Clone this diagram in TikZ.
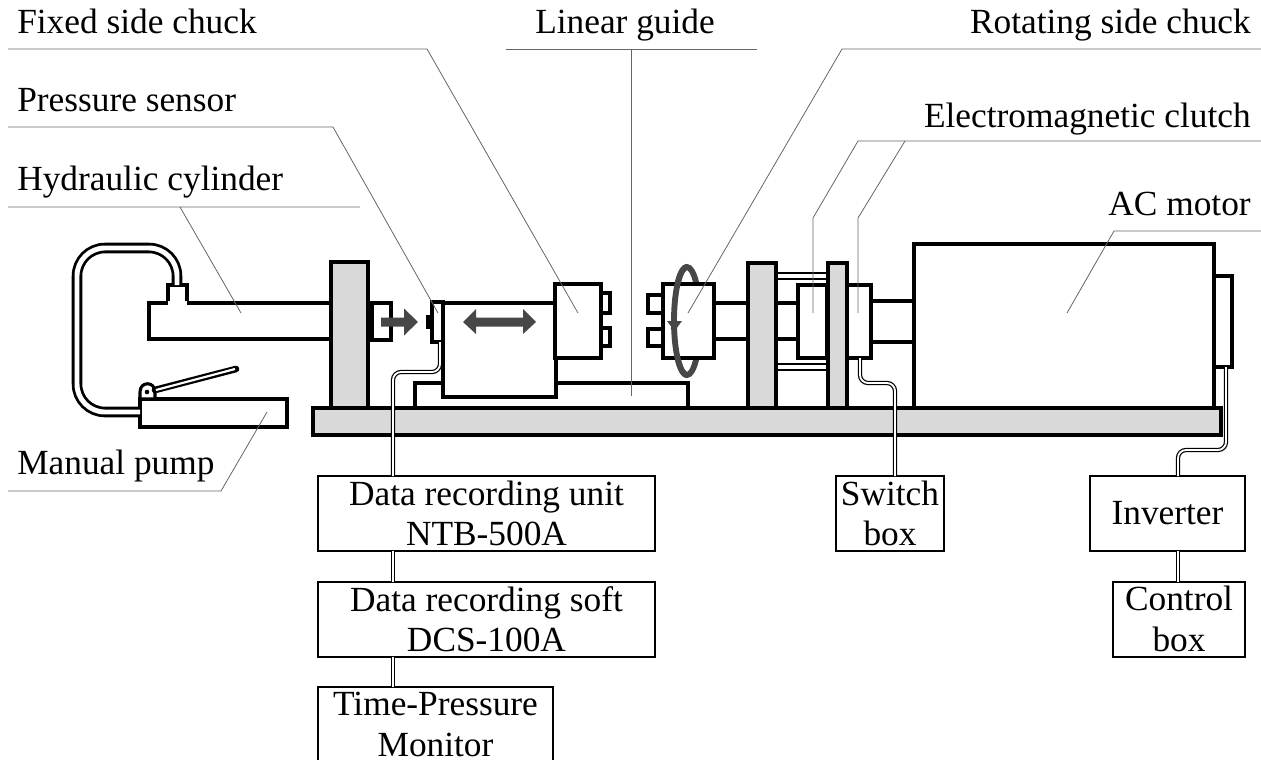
\documentclass[tikz,border=0pt]{standalone}
\usepackage{xcolor}
\usepackage{fontspec}
\setmainfont{Liberation Serif}
\usetikzlibrary{positioning,fit}
\definecolor{plategray}{HTML}{D9D9D9}
\definecolor{arrowgray}{HTML}{474747}
\definecolor{leadergray}{HTML}{666666}

\begin{document}
\begin{tikzpicture}[
    x=0.75pt,y=-0.75pt,
    node distance=23pt,
    every node/.style={font=\fontsize{26.5}{30.5}\selectfont},
    part/.style={rectangle,draw,fill=white,line width=2.3pt,inner sep=0pt,outer sep=0pt},
    plate/.style={part,fill=plategray},
    box/.style={
        rectangle,draw,line width=1.4pt,
        minimum height=56.25pt,
        inner sep=0pt,outer sep=0pt,
        align=center
    },
    label/.style={anchor=base west,inner sep=0pt},
    rlabel/.style={anchor=base east,inner sep=0pt},
    leader/.style={leadergray,line width=0.6pt},
    hose/.style={double=white,draw=black,line width=0.9pt,double distance=1.4pt,rounded corners=6pt},
    tube/.style={double=white,draw=black,line width=2.1pt,double distance=3.7pt,rounded corners=21pt},
    block/.style={fill=arrowgray,draw=none}
]
\useasboundingbox (0,0) rectangle (1261,760);

\node[label] (fixedlabel) at (17,33) {Fixed side chuck};
\node[label] (sensorlabel) at (17,111) {Pressure sensor};
\node[label] (cylinderlabel) at (17,190) {Hydraulic cylinder};
\node[label] (pumplabel) at (17,474) {Manual pump};
\node[label] (guidelabel) at (535,33) {Linear guide};
\node[rlabel] (rotatinglabel) at (1251,33) {Rotating side chuck};
\node[rlabel] (clutchlabel) at (1251,127) {Electromagnetic clutch};
\node[rlabel] (motorlabel) at (1251,215) {AC motor};

\node[part,fit={(140,399)(287,427)}] (pump) {};
\draw[part] (140,399) -- (140,392) .. controls (140,381) and (155,381) .. (155,392) -- (155,399) -- cycle;
\node[draw,circle,fill=black,inner sep=0pt,minimum size=3pt] (pivot) at (147,392) {};
\draw[line width=5pt,line cap=round] (155,390) -- (236,369);
\draw[white,line width=1.6pt] (156,390) -- (235,369);

\node[part,fit={(168,285)(187,303)}] (port) {};
\draw[tube] (177,285) |- (77,248) |- (pump.west |- 0,412);
\node[part,fit={(149,303)(331,339)}] (cylinder) {};
\draw[line width=2.3pt,white] (168,303) -- (187,303);

\node[part,fit={(368,313)(372,330)}] (collar) {};
\node[part,fit={(372,303)(391,340)}] (rod) {};
\fill[block] (381,317.5) -- (404,317.5) -- (404,308.5) -- (418,322) -- (404,335.5) -- (404,326.5) -- (381,326.5) -- cycle;

\node[part,fit={(415,383)(688,408)}] (guide) {};
\node[part,fit={(443,303)(556,397)}] (carriage) {};
\node[part,fit={(428,317)(432,327)}] (tab) {};
\node[part,fit={(432,302)(443,342)}] (sensor) {};
\fill[block] (463,322) -- (476,309) -- (476,317.5) -- (523,317.5) -- (523,309) -- (536,322) -- (523,334) -- (523,326.5) -- (476,326.5) -- (476,334) -- cycle;

\node[part,fit={(601,293)(610,313)}] (fixtaba) {};
\node[part,fit={(601,328)(610,346)}] (fixtabb) {};
\node[part,fit={(555,284)(601,358)}] (fixedchuck) {};

\draw[arrowgray,line width=4.4pt] (687,321) ellipse [x radius=13,y radius=54];
\node[part,fit={(648,295)(663,313)}] (rottaba) {};
\node[part,fit={(648,329)(663,346)}] (rottabb) {};
\node[part,fit={(714,303)(748,339)}] (shafta) {};
\node[part,fit={(663,284)(714,358)}] (rotatingchuck) {};
\draw[arrowgray,line width=4.4pt] plot[domain=90:270,samples=30,smooth] ({687+13*cos(\x)},{321+54*sin(\x)});
\fill[block] (667,321) -- (682,321) -- (674.5,331) -- cycle;

\node[part,fit={(776,303)(798,339)}] (shaftb) {};
\draw[line width=1.7pt] (776,273) -- (828,273) (776,279) -- (828,279);
\draw[line width=1.7pt] (776,364) -- (828,364) (776,370) -- (828,370);
\node[part,fit={(798,285)(827,358)}] (clutcha) {};
\node[part,fit={(847,285)(871,358)}] (clutchb) {};
\node[part,fit={(871,301)(914,342)}] (shaftc) {};
\node[plate,fit={(748,263)(776,408)}] (platea) {};
\node[plate,fit={(828,263)(847,408)}] (plateb) {};
\node[plate,fit={(331,262)(368,408)}] (fixedplate) {};
\node[part,fit={(914,244)(1214,408)}] (motor) {};
\node[part,fit={(1214,276)(1232,367)}] (fan) {};
\node[plate,fit={(313,408)(1221,435)}] (base) {};

\node[box,minimum width=252.75pt] (unit) at (486.5,513.5) {Data recording unit\\NTB-500A};
\node[box,minimum width=252.75pt,below=of unit] (soft) {Data recording soft\\DCS-100A};
\node[box,minimum width=176.25pt,below=22.5pt of soft.south west,anchor=north west] (monitor) {Time-Pressure\\Monitor};
\node[box,minimum width=81pt] (switch) at (890,513.5) {Switch\\box};
\node[box,minimum width=116.25pt] (inverter) at (1167.5,513.5) {Inverter};
\node[box,minimum width=99pt,below=of inverter.south east,anchor=north east] (control) {Control\\box};

\draw[hose] (440,0 |- sensor.south) -- (440,372) -- (393,372) -- (393,0 |- unit.north);
\draw[hose] (393,0 |- unit.south) -- (393,0 |- soft.north);
\draw[hose] (393,0 |- soft.south) -- (393,0 |- monitor.north);
\draw[hose] (860,0 |- clutchb.south) -- (860,383) -- (895,383) -- (895,0 |- switch.north);
\draw[hose] (1226,0 |- fan.south) -- (1226,450) -- (1178,450) -- (1178,0 |- inverter.north);
\draw[hose] (1178,0 |- inverter.south) -- (1178,0 |- control.north);

\coordinate (cylinderend) at (241,313);
\coordinate (sensorend) at (438,313);
\coordinate (fixedend) at (578,313);
\coordinate (guideend) at (631,396);
\coordinate (rotatingend) at (688,313);
\coordinate (clutchaend) at (813,313);
\coordinate (clutchbend) at (858,313);
\coordinate (motorend) at (1067,313);
\coordinate (pumpend) at (267,412);

\draw[leader] (8,49) -- (427,49) -- (fixedend);
\draw[leader] (8,127) -- (333,127) -- (sensorend);
\draw[leader] (8,207) -- (360,207) (180,207) -- (cylinderend);
\draw[leader] (8,491) -- (221,491) -- (pumpend);
\draw[leader] (506,49) -- (757,49) (631,49) -- (guideend);
\draw[leader] (1261,49) -- (842,49) -- (rotatingend);
\draw[leader] (1261,141) -- (858,141) -- (813,218) -- (clutchaend);
\draw[leader] (905,141) -- (858,218) -- (clutchbend);
\draw[leader] (1261,231) -- (1114,231) -- (motorend);
\end{tikzpicture}
\end{document}
